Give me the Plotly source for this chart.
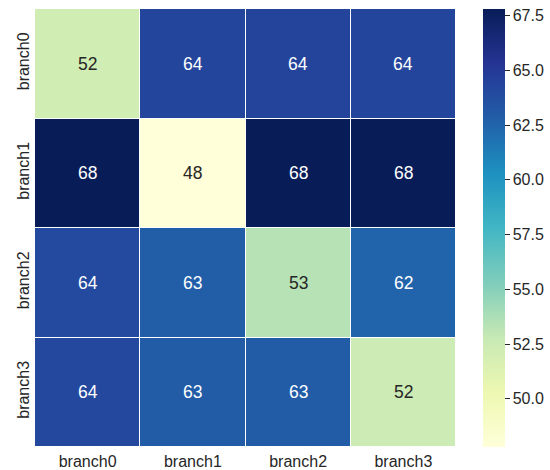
import plotly.graph_objects as go

branches_x = ["branch0", "branch1", "branch2", "branch3"]
branches_y = ["branch0", "branch1", "branch2", "branch3"]
values = [
    [52.2, 64.3, 64.4, 64.3],
    [67.8, 47.8, 67.8, 67.8],
    [64.0, 62.8, 53.4, 62.5],
    [64.1, 62.9, 62.9, 52.4],
]
cbar_ticks = [50.0, 52.5, 55.0, 57.5, 60.0, 62.5, 65.0, 67.5]

ylgnbu = [
    [0.0, "rgb(255,255,217)"], [0.125, "rgb(237,248,177)"], [0.25, "rgb(199,233,180)"],
    [0.375, "rgb(127,205,187)"], [0.5, "rgb(65,182,196)"], [0.625, "rgb(29,145,192)"],
    [0.75, "rgb(34,94,168)"], [0.875, "rgb(37,52,148)"], [1.0, "rgb(8,29,88)"],
]

zmin = min(min(r) for r in values)
zmax = max(max(r) for r in values)

FONT = "Liberation Sans, Arial"

fig = go.Figure(go.Heatmap(
    z=values, x=branches_x, y=branches_y,
    colorscale=ylgnbu, zmin=zmin, zmax=zmax,
    xgap=1, ygap=1, hoverinfo="skip",
    colorbar=dict(
        thickness=22, len=1.0, lenmode="fraction", x=1.064, xanchor="left",
        y=0.5, yanchor="middle", outlinewidth=0, xpad=0, ypad=0,
        tickvals=cbar_ticks, ticktext=[f"{t:.1f}" for t in cbar_ticks],
        ticks="outside", ticklen=5, tickwidth=1, tickcolor="#262626",
        tickfont=dict(family=FONT, size=16, color="#262626"),
    ),
))

for i, row in enumerate(values):
    for j, v in enumerate(row):
        fig.add_annotation(
            x=branches_x[j], y=branches_y[i], text=f"{v:.0f}", showarrow=False,
            font=dict(family=FONT, size=17.5,
                      color="#262626" if v < 56 else "white"),
        )

fig.update_layout(
    width=550, height=470,
    margin=dict(l=35, r=94, t=9, b=23, autoexpand=False),
    plot_bgcolor="white", paper_bgcolor="white",
    font=dict(family=FONT, color="#262626"),
)
fig.update_xaxes(showgrid=False, zeroline=False, ticks="", showline=False,
                 automargin=False, ticklabelstandoff=3,
                 tickfont=dict(size=16, color="#262626"))
fig.update_yaxes(showgrid=False, zeroline=False, ticks="", showline=False,
                 automargin=False, autorange="reversed", tickangle=-90,
                 ticklabelstandoff=2,
                 tickfont=dict(size=16, color="#262626"))

fig.write_html("out.html", config={"displayModeBar": False},
               post_script="document.body.style.margin='0';document.body.style.overflow='hidden';")
